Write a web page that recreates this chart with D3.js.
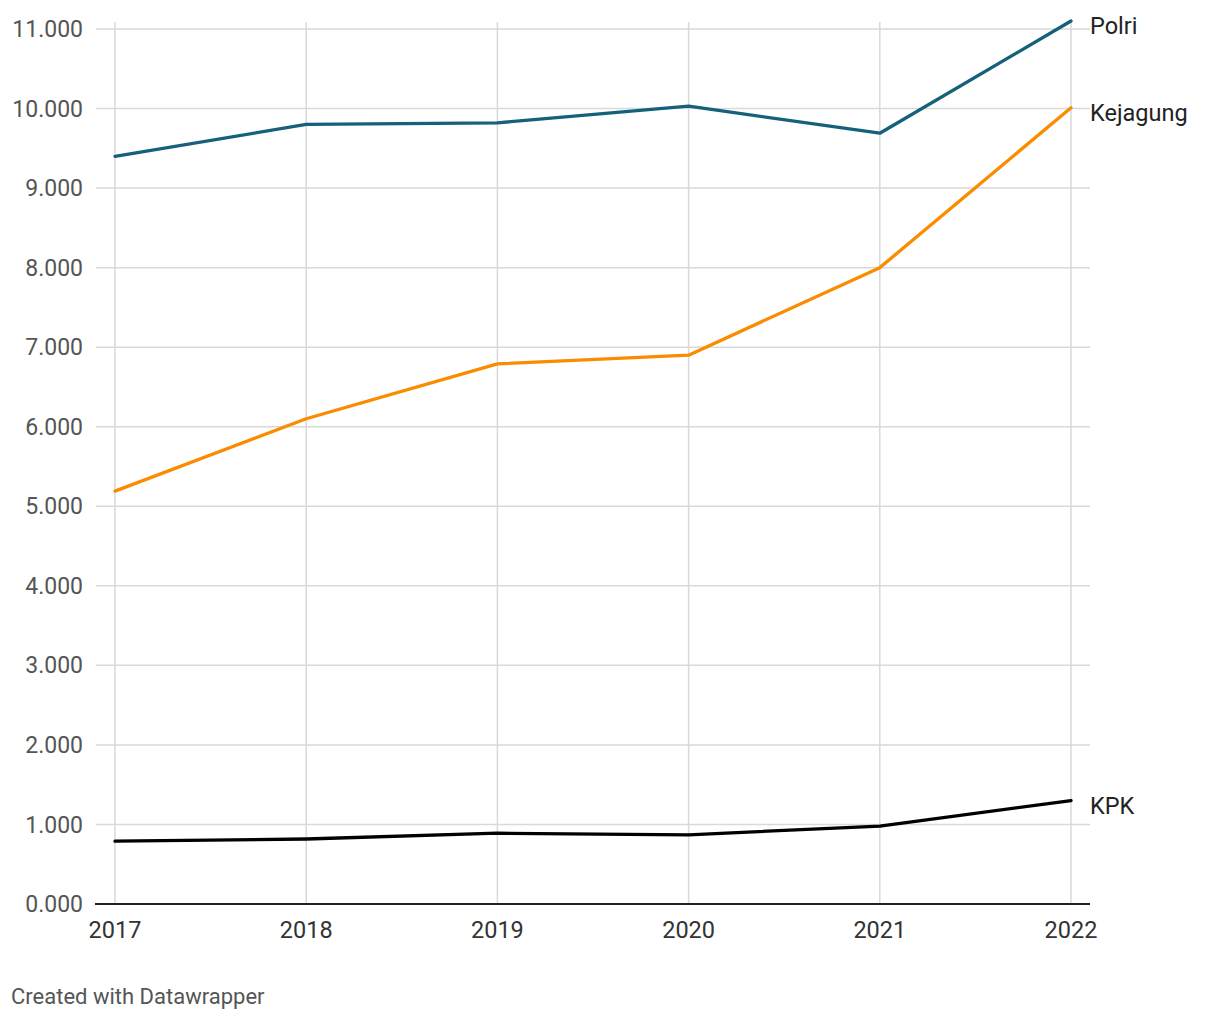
<!DOCTYPE html>
<html><head><meta charset="utf-8">
<script src="https://cdn.jsdelivr.net/npm/d3@7"></script>
<style>body{margin:0;background:#fff;font-family:Roboto,sans-serif;}</style>
</head><body>
<svg id="chart" width="1220" height="1020"></svg>
<script>
const years = [2017, 2018, 2019, 2020, 2021, 2022];
const polri = [9400, 9800, 9820, 10030, 9690, 11100];
const kejagung = [5190, 6100, 6790, 6900, 8000, 10010];
const kpk = [790, 817, 890, 870, 980, 1300];
const yTicks = [0, 1000, 2000, 3000, 4000, 5000, 6000, 7000, 8000, 9000, 10000, 11000];
const seriesNames = ["Polri", "Kejagung", "KPK"];
const seriesColors = ["#15607a", "#fa8c00", "#000000"];

const series = [polri, kejagung, kpk];
const svg = d3.select("#chart");
const x = d3.scaleLinear().domain([2017, 2022]).range([115, 1071]);
const y = d3.scaleLinear().domain([0, 11000]).range([904, 29]);
const fmt = v => (v/1000).toFixed(3);

svg.append("g").selectAll("line").data(yTicks.filter(d => d > 0)).join("line")
  .attr("x1", 96).attr("x2", 1090).attr("y1", d => y(d)).attr("y2", d => y(d))
  .attr("stroke", "#d9d9d9").attr("stroke-width", 1.5);
svg.append("g").selectAll("line").data(years).join("line")
  .attr("x1", d => x(d)).attr("x2", d => x(d)).attr("y1", 22).attr("y2", 904)
  .attr("stroke", "#d9d9d9").attr("stroke-width", 1.5);
svg.append("line").attr("x1", 95).attr("x2", 1090).attr("y1", y(0)).attr("y2", y(0))
  .attr("stroke", "#222").attr("stroke-width", 2);

svg.append("g").selectAll("text").data(yTicks).join("text")
  .attr("x", 83).attr("y", d => y(d)).attr("dy", "0.35em")
  .attr("text-anchor", "end").attr("font-size", 23).attr("fill", "#555")
  .text(fmt);
svg.append("g").selectAll("text").data(years).join("text")
  .attr("x", d => x(d)).attr("y", 938)
  .attr("text-anchor", "middle").attr("font-size", 23.5).attr("fill", "#333")
  .text(d => d);

const line = d3.line().x((d, i) => x(years[i])).y(d => y(d));
series.forEach((s, k) => {
  svg.append("path").attr("d", line(s)).attr("fill", "none")
    .attr("stroke", seriesColors[k]).attr("stroke-width", 3.3)
    .attr("stroke-linejoin", "round").attr("stroke-linecap", "round");
  svg.append("text").attr("x", x(2022) + 19).attr("y", y(s[s.length-1]) + 5)
    .attr("dy", "0.35em").attr("font-size", 23.5).attr("fill", "#222")
    .text(seriesNames[k]);
});

svg.append("text").attr("x", 11).attr("y", 1004).attr("font-size", 22).attr("fill", "#555")
  .text("Created with Datawrapper");
</script>
</body></html>
